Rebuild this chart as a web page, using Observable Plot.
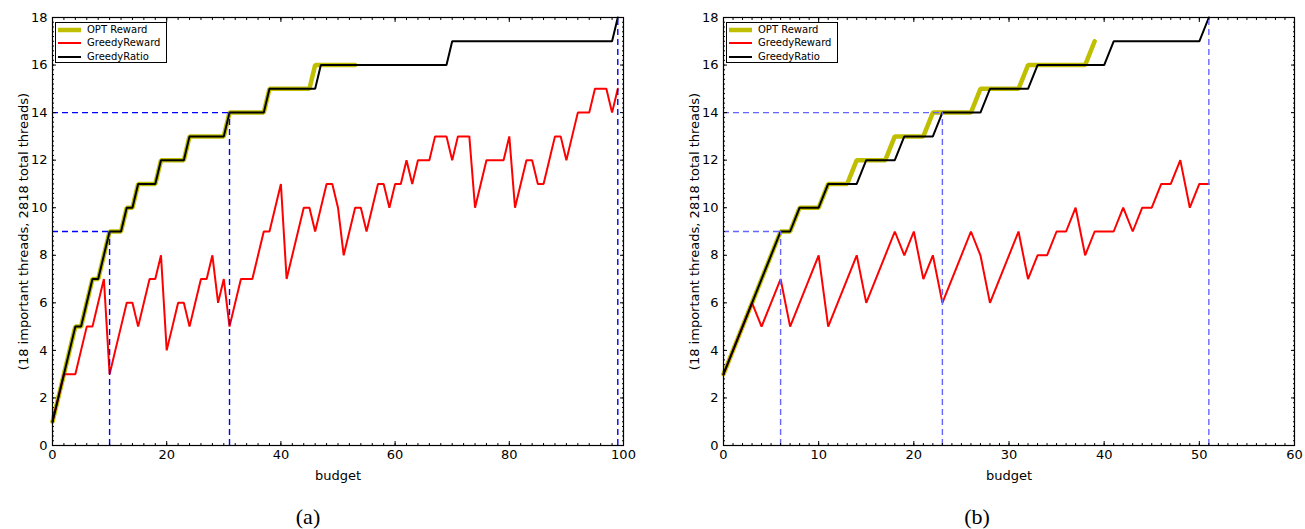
<!DOCTYPE html>
<html>
<head>
<meta charset="utf-8">
<script src="https://cdn.jsdelivr.net/npm/d3@7"></script>
<script src="https://cdn.jsdelivr.net/npm/@observablehq/plot@0.6"></script>
<style>
  body { margin: 0; background: #fff; }
  #wrap { position: relative; width: 1305px; height: 529px; font-family: "DejaVu Sans", sans-serif; }
  .panel { position: absolute; top: 0; }
  .legend { position: absolute; border: 1px solid #000; background: #fff; font-size: 10px; box-sizing: border-box; }
  .legend .row { position: absolute; left: 0; height: 12px; line-height: 12px; white-space: nowrap; }
  .legend svg { position: absolute; left: 1px; top: 0; }
  .legend span { position: absolute; left: 31px; top: 0; }
  .cap { position: absolute; font-family: "Liberation Serif", "DejaVu Serif", serif; font-size: 22px; line-height: 24px; transform: translateX(-50%); }
</style>
</head>
<body>
<div id="wrap"></div>
<script>
// ---------- Data ----------
const seriesNames = ["OPT Reward", "GreedyReward", "GreedyRatio"];
const seriesColors = ["#bfbf00", "#ff0000", "#000000"];

// Panel (a): budget 0..99
const optA = [1,2,3,4,5,5,6,7,7,8,9,9,9,10,10,11,11,11,11,12,12,12,12,12,13,13,13,13,13,13,13,14,14,14,14,14,14,14,15,15,15,15,15,15,15,15,16,16,16,16,16,16,16,16];
const greedyRewardA = [1,2,3,3,3,4,5,5,6,7,3,4,5,6,6,5,6,7,7,8,4,5,6,6,5,6,7,7,8,6,7,5,6,7,7,7,8,9,9,10,11,7,8,9,10,10,9,10,11,11,10,8,9,10,10,9,10,11,11,10,11,11,12,11,12,12,12,13,13,13,12,13,13,13,10,11,12,12,12,12,13,10,11,12,12,11,11,12,13,13,12,13,14,14,14,15,15,15,14,15];
const greedyRatioA = [1,2,3,4,5,5,6,7,7,8,9,9,9,10,10,11,11,11,11,12,12,12,12,12,13,13,13,13,13,13,13,14,14,14,14,14,14,14,15,15,15,15,15,15,15,15,15,16,16,16,16,16,16,16,16,16,16,16,16,16,16,16,16,16,16,16,16,16,16,16,17,17,17,17,17,17,17,17,17,17,17,17,17,17,17,17,17,17,17,17,17,17,17,17,17,17,17,17,17,18];
const guideBudgetA = [10, 31, 99];
const guideValueA = [9, 14, 18];

// Panel (b): budget 0..51
const optB = [3,4,5,6,7,8,9,9,10,10,10,11,11,11,12,12,12,12,13,13,13,13,14,14,14,14,14,15,15,15,15,15,16,16,16,16,16,16,16,17];
const greedyRewardB = [3,4,5,6,5,6,7,5,6,7,8,5,6,7,8,6,7,8,9,8,9,7,8,6,7,8,9,8,6,7,8,9,7,8,8,9,9,10,8,9,9,9,10,9,10,10,11,11,12,10,11,11];
const greedyRatioB = [3,4,5,6,7,8,9,9,10,10,10,11,11,11,11,12,12,12,12,13,13,13,13,14,14,14,14,14,15,15,15,15,15,16,16,16,16,16,16,16,16,17,17,17,17,17,17,17,17,17,17,18];
const guideBudgetB = [6, 23, 51];
const guideValueB = [9, 14, 18];

const yTicks = [0,2,4,6,8,10,12,14,16,18];
const xTicksA = [0,20,40,60,80,100];
const xTicksB = [0,10,20,30,40,50,60];
const yLabel = "(18 important threads, 2818 total threads)";
const xLabel = "budget";
const captions = ["(a)", "(b)"];

// ---------- Helpers ----------
const toPts = arr => arr.map((y, x) => ({x, y}));
const range = (a, b, s) => d3.range(a, b + s / 2, s).map(v => +v.toFixed(4));

function makePanel({width, marginLeft, marginRight, xDomain, xTicks, xMinorStep, opt, red, black, gB, gV, dashColor}) {
  const yMax = 18;
  const guides = gB.map((x, i) => ({x, y: gV[i]}));
  const xMinor = range(xDomain[0], xDomain[1], xMinorStep);
  const yMinor = range(0, yMax, 0.2);
  const noText = () => "";
  return Plot.plot({
    width, height: 490,
    marginTop: 17, marginBottom: 45, marginLeft, marginRight,
    x: {domain: xDomain},
    y: {domain: [0, yMax]},
    style: {fontFamily: "DejaVu Sans, sans-serif", fontSize: "13px", color: "#000", background: "transparent", overflow: "visible"},
    marks: [
      Plot.line(toPts(opt), {x: "x", y: "y", stroke: seriesColors[0], strokeWidth: 4.5, strokeLinejoin: "miter"}),
      Plot.line(toPts(red), {x: "x", y: "y", stroke: seriesColors[1], strokeWidth: 2, strokeLinejoin: "miter"}),
      Plot.line(toPts(black), {x: "x", y: "y", stroke: seriesColors[2], strokeWidth: 2, strokeLinejoin: "miter"}),
      // horizontal guide at the top edge is hidden under the frame in the original
      Plot.ruleY(guides.filter(d => d.y < yMax), {y: "y", x1: () => 0, x2: "x", stroke: dashColor, strokeWidth: 1.4, strokeDasharray: "6,4"}),
      Plot.ruleX(guides, {x: "x", y1: () => 0, y2: "y", stroke: dashColor, strokeWidth: 1.4, strokeDasharray: "6,4"}),
      Plot.frame({stroke: "#000", strokeWidth: 1.2}),
      // labels
      Plot.axisX({ticks: xTicks, tickSize: 0, tickPadding: 4, tickFormat: d => String(d), label: xLabel, labelAnchor: "center", labelOffset: 34, labelArrow: "none"}),
      Plot.axisY({ticks: yTicks, tickSize: 0, tickPadding: 5, tickFormat: d => String(d), label: yLabel, labelAnchor: "center", labelOffset: 34, labelArrow: "none"}),
      // inward ticks, all four sides
      Plot.axisX({ticks: xTicks, tickSize: -4, tickFormat: noText, label: null}),
      Plot.axisX({ticks: xMinor, tickSize: -2, tickFormat: noText, label: null}),
      Plot.axisX({anchor: "top", ticks: xTicks, tickSize: -4, tickFormat: noText, label: null}),
      Plot.axisX({anchor: "top", ticks: xMinor, tickSize: -2, tickFormat: noText, label: null}),
      Plot.axisY({ticks: yTicks, tickSize: -4, tickFormat: noText, label: null}),
      Plot.axisY({ticks: yMinor, tickSize: -2, tickFormat: noText, label: null}),
      Plot.axisY({anchor: "right", ticks: yTicks, tickSize: -4, tickFormat: noText, label: null}),
      Plot.axisY({anchor: "right", ticks: yMinor, tickSize: -2, tickFormat: noText, label: null})
    ]
  });
}

function makeLegend(left, top) {
  const lg = document.createElement("div");
  lg.className = "legend";
  lg.style.left = left + "px";
  lg.style.top = top + "px";
  lg.style.width = "112px";
  lg.style.height = "41px";
  const widths = [4.5, 2, 2];
  seriesNames.forEach((name, i) => {
    const row = document.createElement("div");
    row.className = "row";
    row.style.top = (1 + i * 13.3) + "px";
    row.innerHTML = `<svg width="26" height="12"><line x1="1" x2="24" y1="6" y2="6" stroke="${seriesColors[i]}" stroke-width="${widths[i]}"/></svg><span>${name}</span>`;
    lg.appendChild(row);
  });
  return lg;
}

const wrap = document.getElementById("wrap");

const pa = makePanel({width: 652, marginLeft: 52, marginRight: 29, xDomain: [0, 100], xTicks: xTicksA, xMinorStep: 2,
  opt: optA, red: greedyRewardA, black: greedyRatioA, gB: guideBudgetA, gV: guideValueA, dashColor: "#0000ff"});
pa.classList.add("panel"); pa.style.left = "0px";
wrap.appendChild(pa);

const pb = makePanel({width: 653, marginLeft: 71, marginRight: 11, xDomain: [0, 60], xTicks: xTicksB, xMinorStep: 1,
  opt: optB, red: greedyRewardB, black: greedyRatioB, gB: guideBudgetB, gV: guideValueB, dashColor: "#6666ff"});
pb.classList.add("panel"); pb.style.left = "652px";
wrap.appendChild(pb);

wrap.appendChild(makeLegend(55, 22));
wrap.appendChild(makeLegend(726, 22));

[[308, captions[0]], [977, captions[1]]].forEach(([cx, t]) => {
  const c = document.createElement("div");
  c.className = "cap";
  c.style.left = cx + "px";
  c.style.top = "505px";
  c.textContent = t;
  wrap.appendChild(c);
});
</script>
</body>
</html>
